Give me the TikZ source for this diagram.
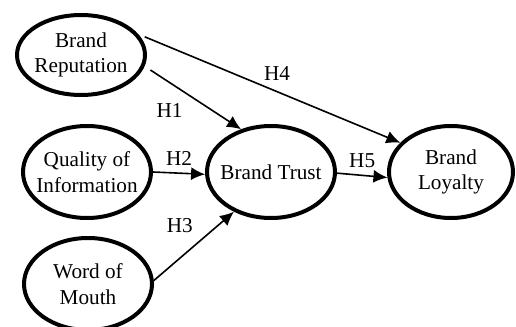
\documentclass[tikz,border=0pt]{standalone}
\usepackage{fontspec}
\setmainfont{Liberation Serif}
\usetikzlibrary{arrows.meta,positioning,shapes.geometric}

\begin{document}
\begin{tikzpicture}[x=0.5pt,y=-0.5pt,->,>={Latex[length=7pt,width=6.5pt]},line width=0.8pt,
    font=\fontsize{10.6}{12.7}\selectfont,
    main node/.style={ellipse,draw,line width=2pt,inner sep=-3pt,minimum width=64pt,minimum height=46pt,align=center}]

    \useasboundingbox (0,0) rectangle (516,327);

    \node[main node,minimum height=40pt] (1) at (81,55) {Brand\\Reputation};
    \node[main node] (2) at (87,172) {Quality of\\Information};
    \node[main node] (3) at (88,284) {Word of\\Mouth};

    \node[main node] (4) [right=26pt of 2] {Brand Trust};
    \node[main node,minimum width=62pt] (5) [right=25pt of 4] {Brand\\Loyalty};


    \path (1.-10) edge[shorten <=3.5pt] node[pos=.47,below left] {H1} (4.125);
    \path (1.20) edge[shorten <=3.5pt] node[pos=.53,above=2pt] {H4} (5.150);
    \path (2.0) edge node[above] {H2} (4.182);
    \path (3.3) edge node[pos=.58,above left] {H3} (4.227);
    \path (4.-1) edge node[above] {H5} (5.185);
\end{tikzpicture}
\end{document}
